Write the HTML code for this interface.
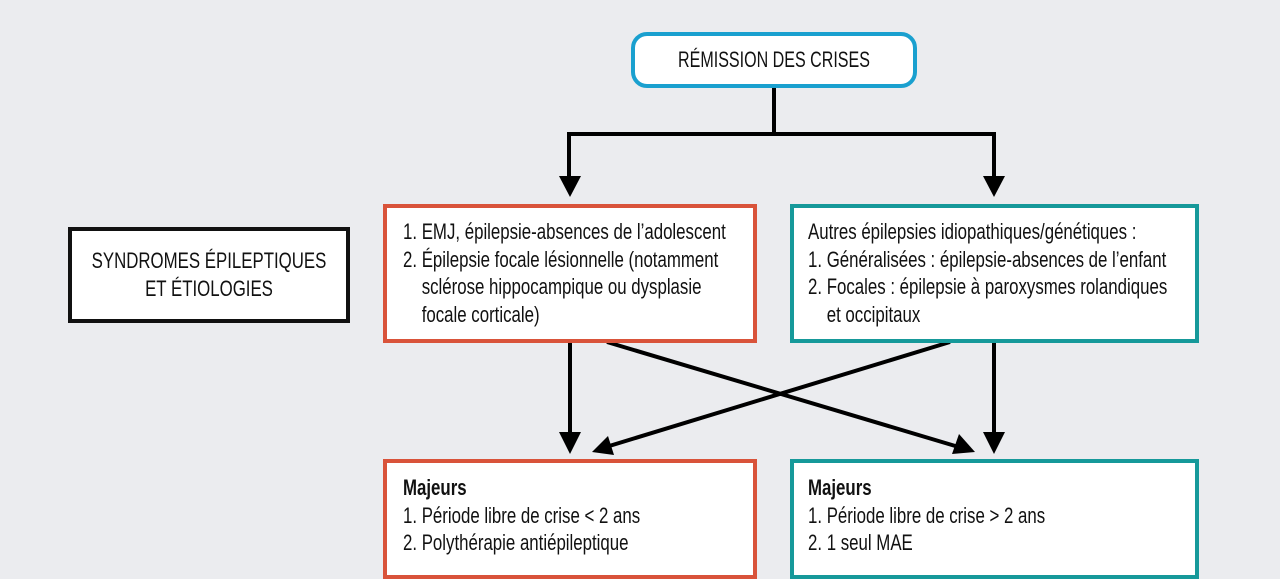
<!DOCTYPE html>
<html><head><meta charset="utf-8"><style>
body{margin:0;width:1280px;height:556px;background:#ebecef;position:relative;overflow:hidden;font-family:"Liberation Sans",sans-serif;color:#111}
.b{position:absolute;background:#fff;box-sizing:border-box}
.t{position:absolute;white-space:nowrap;font-size:22px;line-height:27.5px;transform:scaleX(0.765);transform-origin:0 0}
</style></head><body>
<svg width="1280" height="556" style="position:absolute;left:0;top:0">
<g stroke="#000" stroke-width="4" fill="none">
<path d="M774 88V134M569 134H996M569 132V182M994 132V182"/>
<path d="M570 342V440M994 342V440"/>
<path d="M607 342L962 448M950 342L606 447"/>
</g>
<g fill="#000">
<polygon points="559,176 581,176 570,197"/>
<polygon points="983,176 1005,176 994,197"/>
<polygon points="559,432 581,432 570,454"/>
<polygon points="983,432 1005,432 994,454"/>
<polygon points="975,452 952,454 959,434"/>
<polygon points="592,452 608,436 614,455"/>
</g>
</svg>
<div class="b" style="left:631px;top:32px;width:286px;height:56px;border:4px solid #1aa0cf;border-radius:16px"></div>
<div class="t" style="left:574px;top:46px;width:400px;text-align:center;transform-origin:200px 0;transform:scaleX(0.73)">RÉMISSION DES CRISES</div>
<div class="b" style="left:68px;top:227px;width:282px;height:96px;border:4px solid #111"></div>
<div class="t" style="left:9px;top:247px;width:400px;text-align:center;transform-origin:200px 0">SYNDROMES ÉPILEPTIQUES<br>ET ÉTIOLOGIES</div>
<div class="b" style="left:383px;top:204px;width:374px;height:139px;border:4px solid #d9533a"></div>
<div class="t" style="left:403px;top:218px;">1. EMJ, épilepsie-absences de l’adolescent<br>2. Épilepsie focale lésionnelle (notamment<br>&nbsp;&nbsp;&nbsp;&nbsp;sclérose hippocampique ou dysplasie<br>&nbsp;&nbsp;&nbsp;&nbsp;focale corticale)</div>
<div class="b" style="left:790px;top:204px;width:409px;height:139px;border:4px solid #16999a"></div>
<div class="t" style="left:808px;top:218px;">Autres épilepsies idiopathiques/génétiques :<br>1. Généralisées : épilepsie-absences de l’enfant<br>2. Focales : épilepsie à paroxysmes rolandiques<br>&nbsp;&nbsp;&nbsp;&nbsp;et occipitaux</div>
<div class="b" style="left:383px;top:459px;width:374px;height:120px;border:4px solid #d9533a"></div>
<div class="t" style="left:403px;top:474px;"><b>Majeurs</b><br>1. Période libre de crise &lt; 2 ans<br>2. Polythérapie antiépileptique</div>
<div class="b" style="left:790px;top:459px;width:409px;height:120px;border:4px solid #16999a"></div>
<div class="t" style="left:808px;top:474px;"><b>Majeurs</b><br>1. Période libre de crise &gt; 2 ans<br>2. 1 seul MAE</div>
</body></html>
